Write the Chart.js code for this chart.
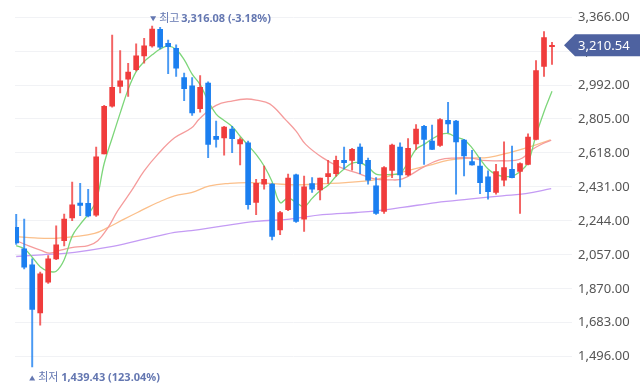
<!DOCTYPE html>
<html>
<head>
<meta charset="utf-8">
<script src="https://cdn.jsdelivr.net/npm/chart.js@4/dist/chart.umd.min.js"></script>
<style>
  html, body { margin: 0; padding: 0; background: #fff; }
</style>
</head>
<body>
<canvas id="priceChart" width="640" height="391"></canvas>
<script>
// daily candles, oldest first
const opens = [2208, 2090, 2002, 1737, 1907, 2035, 2135, 2260, 2342, 2340,
  2276, 2613, 2875, 2984, 3024, 3076, 3152, 3207, 3298, 3221,
  3194, 3033, 2988, 2862, 3002, 2710, 2701, 2750, 2668, 2674,
  2345, 2446, 2446, 2194, 2305, 2498, 2254, 2449, 2415, 2487,
  2504, 2577, 2577, 2650, 2577, 2437, 2296, 2522, 2650, 2497,
  2668, 2765, 2683, 2659, 2798, 2793, 2689, 2570, 2546, 2486,
  2400, 2468, 2528, 2516, 2555, 2692, 3094, 3203];
const highs = [2280, 2254, 2035, 1962, 2053, 2217, 2282, 2458, 2451, 2418,
  2650, 2880, 3267, 3181, 3112, 3218, 3249, 3316.08, 3310, 3240,
  3213, 3057, 3033, 3044, 3010, 2793, 2765, 2765, 2701, 2683,
  2473, 2546, 2449, 2296, 2501, 2502, 2491, 2482, 2479, 2577,
  2601, 2650, 2643, 2668, 2590, 2482, 2543, 2667, 2674, 2697,
  2774, 2770, 2772, 2807, 2897, 2797, 2693, 2632, 2592, 2519,
  2555, 2679, 2656, 2563, 2723, 3127, 3286, 3227];
const lows = [2115, 1980, 1439.43, 1670, 1899, 2030, 2106, 2245, 2272, 2266,
  2268, 2612, 2870, 2948, 2929, 3070, 3112, 3200, 3190, 3054,
  3039, 2906, 2825, 2842, 2592, 2650, 2606, 2619, 2552, 2309,
  2278, 2418, 2139, 2168, 2300, 2236, 2186, 2400, 2360, 2450,
  2490, 2530, 2523, 2504, 2446, 2280, 2285, 2482, 2431, 2492,
  2638, 2555, 2636, 2654, 2729, 2391, 2491, 2550, 2394, 2364,
  2391, 2437, 2480, 2285, 2552, 2690, 3039, 3106];
const closes = [2123, 1989, 1756, 1953, 2035, 2112, 2254, 2333, 2329, 2271,
  2597, 2875, 2979, 3015, 3063, 3152, 3207, 3300, 3200, 3203,
  3085, 2972, 2838, 2979, 2665, 2692, 2761, 2697, 2692, 2333,
  2451, 2473, 2159, 2290, 2479, 2241, 2431, 2418, 2479, 2504,
  2577, 2564, 2638, 2559, 2468, 2285, 2537, 2661, 2497, 2643,
  2750, 2692, 2638, 2802, 2778, 2678, 2601, 2552, 2455, 2405,
  2516, 2537, 2482, 2559, 2705, 3072, 3253, 3210.54];

// moving averages: [candle index, value]
const ma5 = [[0, 2108], [1, 2090], [2, 2044], [3, 1992], [4, 1967], [5, 1967], [6, 2030],
  [7, 2160], [8, 2225], [9, 2280], [10, 2354], [11, 2560], [12, 2700], [13, 2837],
  [14, 2968], [15, 3066], [16, 3121], [17, 3158], [18, 3190], [19, 3206], [20, 3188],
  [21, 3132], [22, 3052], [23, 2994], [24, 2905], [25, 2832], [26, 2797], [27, 2764],
  [28, 2710], [29, 2660], [30, 2610], [31, 2546], [32, 2460], [33, 2345], [34, 2370],
  [35, 2345], [36, 2322], [37, 2368], [38, 2410], [39, 2440], [40, 2490], [41, 2530],
  [42, 2562], [43, 2564], [44, 2540], [45, 2501], [46, 2498], [47, 2500], [48, 2505],
  [49, 2566], [50, 2638], [51, 2665], [52, 2695], [53, 2718], [54, 2725], [55, 2705],
  [56, 2690], [57, 2646], [58, 2585], [59, 2530], [60, 2500], [61, 2488], [62, 2491],
  [63, 2515], [64, 2565], [65, 2715], [66, 2845], [67, 2957]];
const ma20 = [[0, 2135], [1.5, 2108], [3.2, 2080], [4.2, 2066], [5.7, 2084], [7.3, 2100],
  [9, 2108], [10.2, 2135], [11.5, 2208], [12.7, 2300], [14.4, 2409], [16, 2519],
  [17.7, 2610], [19.8, 2701], [21.9, 2755], [22.9, 2805], [25, 2880], [27.1, 2905],
  [28.8, 2915], [30, 2909], [31.7, 2888], [33.7, 2800], [35, 2738], [36.2, 2665],
  [38.3, 2592], [40.4, 2541], [42.5, 2509], [44.8, 2475], [46.6, 2470], [48.3, 2475],
  [50.8, 2537], [52.9, 2580], [55, 2590], [57, 2590], [58.3, 2577], [60.8, 2575],
  [62.4, 2577], [63.3, 2590], [64.5, 2636], [65.7, 2666], [66.9, 2688]];
const ma60 = [[0, 2157], [2.3, 2150], [4.8, 2148], [7.3, 2157], [9.8, 2175], [11.5, 2208],
  [13.5, 2254], [15.6, 2300], [17.7, 2345], [19.8, 2382], [21.9, 2400], [24.2, 2437],
  [26.7, 2451], [29.2, 2455], [32.1, 2449], [35, 2442], [38.3, 2449], [41.2, 2455],
  [44.8, 2470], [46.6, 2491], [49.1, 2522], [51.6, 2550], [54.1, 2578], [56.6, 2590],
  [59.1, 2594], [61.6, 2619], [64.1, 2650], [66.8, 2690]];
const ma120 = [[0, 2048], [3.2, 2057], [7.3, 2071], [11.5, 2099], [15.6, 2139], [19.8, 2181],
  [21.9, 2190], [25.9, 2217], [30, 2241], [34.2, 2254], [38.3, 2278], [42.5, 2290],
  [44.8, 2298], [48.3, 2318], [52.5, 2345], [56.6, 2364], [60.8, 2382], [63.7, 2394],
  [66.9, 2421]];

const yTicks = [1496, 1683, 1870, 2057, 2244, 2431, 2618, 2805, 2992, 3179, 3366];

const UP = "#f03c3c";
const DOWN = "#1b7ff0";
const FONT = '"Noto Sans", "Noto Sans CJK KR", sans-serif';

const candleColor = opens.map((o, i) => (closes[i] >= o ? UP : DOWN));
const wickColor = opens.map((o, i) => (closes[i] >= o ? "rgba(240,60,60,0.8)" : "rgba(27,127,240,0.8)"));

const maLine = (label, pts, color) => ({
  type: "line",
  label,
  data: pts.map(([x, y]) => ({ x, y })),
  borderColor: color,
  borderWidth: 1.3,
  pointRadius: 0,
  tension: 0.4,
  order: 2,
});

const fmt = (v) => v.toLocaleString("en-US", { minimumFractionDigits: 2, maximumFractionDigits: 2 });

// last price tag + high/low markers
const markers = {
  id: "markers",
  afterDraw(chart) {
    const { ctx, scales: { x, y } } = chart;
    const last = closes[closes.length - 1];

    const hi = Math.max(...highs);
    const hiIdx = highs.indexOf(hi);
    const lo = Math.min(...lows);
    const loIdx = lows.indexOf(lo);

    const hiPct = ((last - hi) / hi) * 100;
    const loPct = ((last - lo) / lo) * 100;

    ctx.save();
    ctx.fillStyle = "#6477b1";
    ctx.textBaseline = "middle";

    // high
    let cx = x.getPixelForValue(hiIdx) + 1;
    let cy = y.getPixelForValue(hi) - 7.5;
    ctx.beginPath();
    ctx.moveTo(cx - 3, cy - 2.5);
    ctx.lineTo(cx + 3, cy - 2.5);
    ctx.lineTo(cx, cy + 2.5);
    ctx.closePath();
    ctx.fill();
    ctx.font = "11px " + FONT;
    ctx.fillText("최고", cx + 6, cy);
    ctx.font = "bold 11px " + FONT;
    ctx.fillText(fmt(hi) + " (" + hiPct.toFixed(2) + "%)", cx + 28, cy);

    // low
    cx = x.getPixelForValue(loIdx);
    cy = y.getPixelForValue(lo) + 11;
    ctx.beginPath();
    ctx.moveTo(cx - 3, cy + 2.5);
    ctx.lineTo(cx + 3, cy + 2.5);
    ctx.lineTo(cx, cy - 2.5);
    ctx.closePath();
    ctx.fill();
    ctx.font = "11px " + FONT;
    ctx.fillText("최저", cx + 6, cy);
    ctx.font = "bold 11px " + FONT;
    ctx.fillText(fmt(lo) + " (" + loPct.toFixed(2) + "%)", cx + 29, cy);

    // price tag
    const ty = y.getPixelForValue(last);
    ctx.fillStyle = "#4e62a0";
    ctx.beginPath();
    ctx.moveTo(564, ty);
    ctx.lineTo(575, ty - 11);
    ctx.lineTo(640, ty - 11);
    ctx.lineTo(640, ty + 11);
    ctx.lineTo(575, ty + 11);
    ctx.closePath();
    ctx.fill();
    ctx.fillStyle = "#ffffff";
    ctx.font = "13px " + FONT;
    ctx.fillText(fmt(last), 578, ty + 0.5);
    ctx.restore();
  },
};

const ctx = document.getElementById("priceChart");
// eslint-disable-next-line no-unused-vars
const priceChart = new Chart(ctx, {
  type: "bar",
  data: {
    datasets: [
      {
        label: "body",
        data: opens.map((o, i) => ({ x: i, y: [o, closes[i]] })),
        backgroundColor: candleColor,
        barThickness: 5,
        minBarLength: 1,
        grouped: false,
        order: 0,
      },
      {
        label: "wick",
        data: opens.map((o, i) => ({ x: i, y: [lows[i], highs[i]] })),
        backgroundColor: wickColor,
        barThickness: 1.3,
        grouped: false,
        order: 1,
      },
      maLine("5", ma5, "#7dd67a"),
      maLine("20", ma20, "#f59c9c"),
      maLine("60", ma60, "#fbbf8a"),
      maLine("120", ma120, "#c49bf4"),
    ],
  },
  options: {
    responsive: false,
    animation: false,
    layout: { padding: { left: 15, top: 12, bottom: 17, right: 0 } },
    plugins: { legend: { display: false }, tooltip: { enabled: false } },
    scales: {
      x: {
        type: "linear",
        min: -0.15,
        max: 69.5,
        offset: false,
        grid: { offset: false },
        display: false,
      },
      y: {
        position: "right",
        min: 1401,
        max: 3384,
        afterBuildTicks: (s) => {
          s.ticks = yTicks.map((v) => ({ value: v }));
        },
        afterFit: (s) => {
          s.width = 68;
        },
        grid: { color: "#f1f2f5", drawTicks: false },
        border: { display: false },
        ticks: {
          padding: 6,
          color: "#555",
          font: { family: FONT, size: 13 },
          callback: (v) => fmt(v),
        },
      },
    },
  },
  plugins: [markers],
});
</script>
</body>
</html>
